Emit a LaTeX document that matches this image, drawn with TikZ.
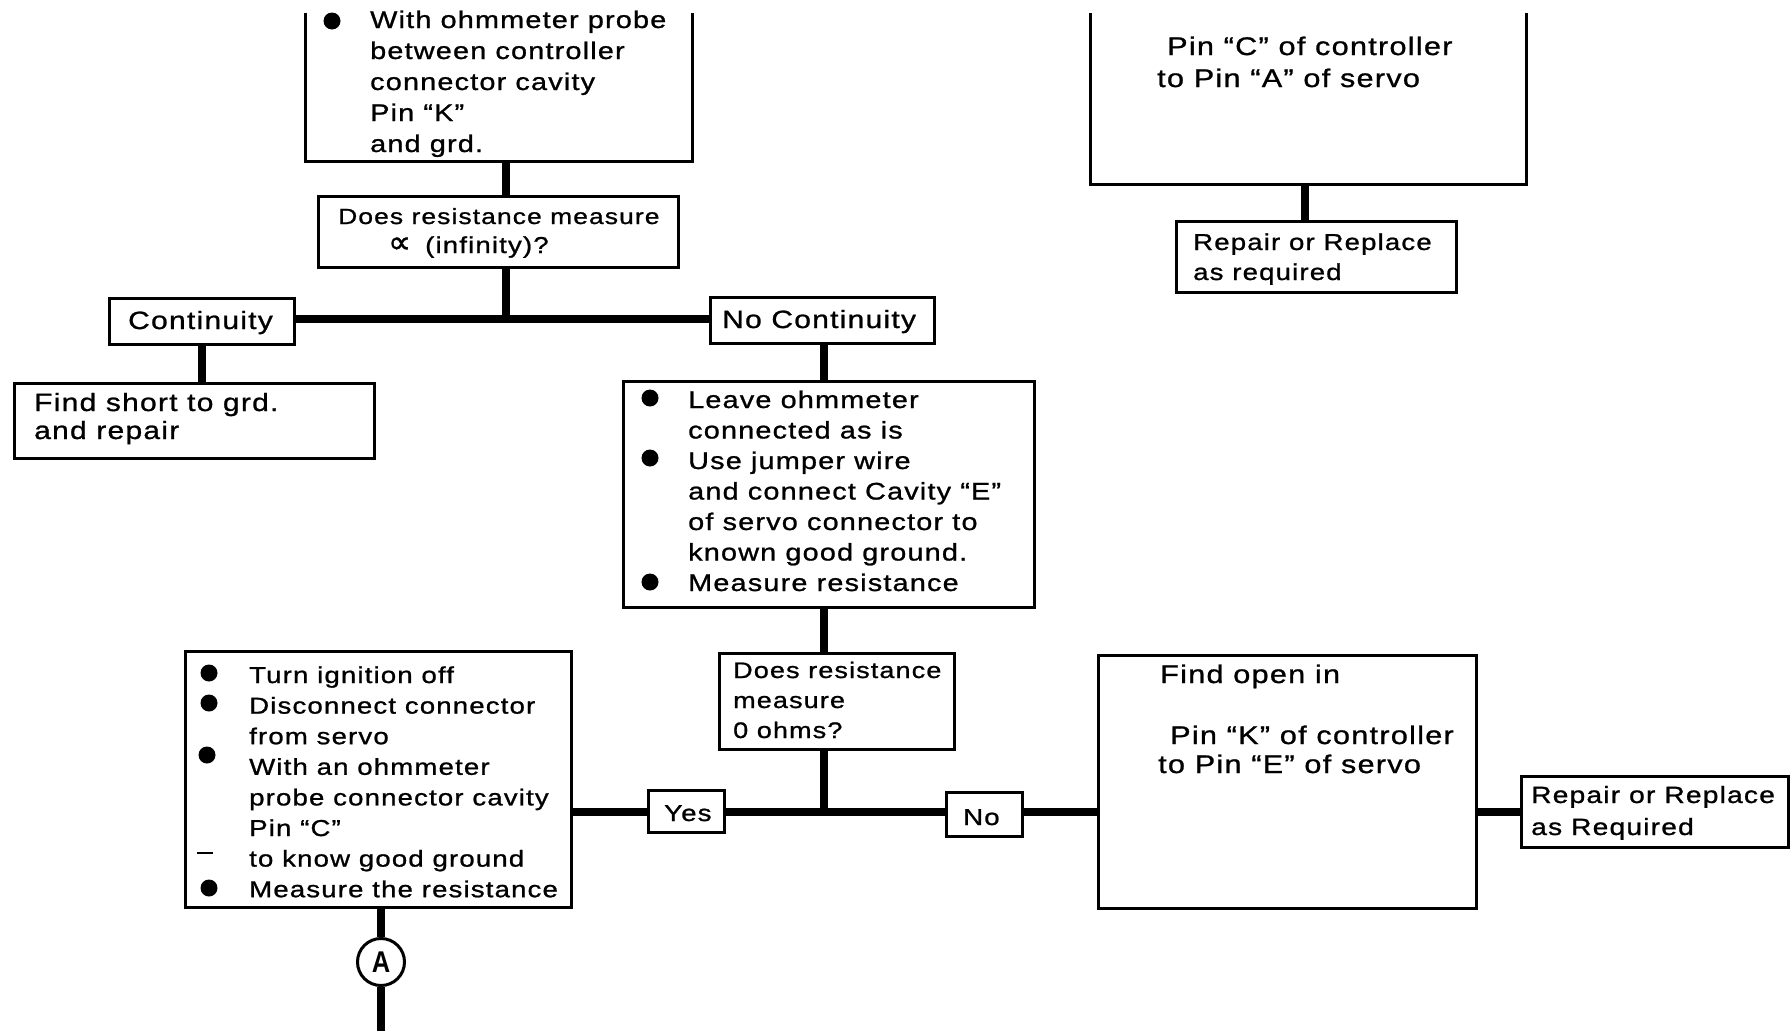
\documentclass[tikz,border=0pt]{standalone}
\usepackage{fontspec}
\setmainfont{Liberation Sans}[FakeStretch=1.2,LetterSpace=5,FakeBold=1]
\newfontfamily\symfont{DejaVu Sans}[FakeBold=1]
\newfontfamily\letterfont{Liberation Sans}[FakeStretch=0.85]
\newcommand\fs[2]{\fontsize{#1}{#2}\selectfont}
\usetikzlibrary{fit}

\begin{document}
\begin{tikzpicture}[x=1pt,y=-1pt,
  box/.style={draw, line width=3pt, inner sep=0pt},
  frame/.style={inner sep=0pt},
  edge/.style={line width=3pt, line join=miter},
  conn/.style={line width=8.5pt},
  dot/.style={circle, fill, inner sep=0pt, minimum size=17pt},
  txt/.style={anchor=base west, inner sep=0pt, font=\fs{23}{30.6}}]
\useasboundingbox[fill=white] (0,0) rectangle (1792,1031);

% ---------- upper left: probe step (box open at the top) ----------
\node[frame, fit={(306,13) (692,161)}] (tl) {};
\draw[edge] (tl.north west) -- (tl.south west) -- (tl.south east) -- (tl.north east);
\node[dot] (tldot) at (332,21) {};
\node[txt, font=\fs{24}{31}] (tltext) at (370,28) {\begin{tabular}[t]{@{}l@{}}With ohmmeter probe\\between controller\\connector cavity\\Pin “K”\\and grd.\end{tabular}};

% ---------- first question ----------
\node[box, fit={(318,196) (678,267)}] (d1) {};
\node[txt, font=\fs{22}{30}] (d1a) at (338,224) {Does resistance measure};
\node[txt, font=\fs{32}{30}] (d1b) at (388,253) {{\symfont ∝}};
\node[txt] (d1c) at (425,253) {(infinity)?};

\coordinate (j1) at (506,319);
\draw[conn] (tl.south -| j1) -- (d1.north -| j1);
\draw[conn] (d1.south -| j1) -- (j1);

% ---------- continuity branches ----------
\node[box, fit={(109,298) (294,344)}] (cont) {};
\node[txt, font=\fs{25}{30}] (contt) at (128,329) {Continuity};
\node[box, fit={(710,297) (934,343)}] (nocont) {};
\node[txt, font=\fs{25}{30}] (nocontt) at (722,328) {No Continuity};
\draw[conn] (cont.east |- j1) -- (nocont.west |- j1);

\node[box, fit={(14,383) (374,458)}] (short) {};
\node[txt, font=\fs{25}{30}] (shorta) at (34,411) {Find short to grd.};
\node[txt, font=\fs{25}{30}] (shortb) at (34,439) {and repair};
\coordinate (c1) at (202,0);
\draw[conn] (cont.south -| c1) -- (short.north -| c1);

% ---------- jumper wire step ----------
\node[box, fit={(623,381) (1034,607)}] (b2) {};
\node[dot] (b2d1) at (650,398) {};
\node[dot] (b2d2) at (650,458) {};
\node[dot] (b2d3) at (650,582) {};
\node[txt, font=\fs{24}{30.5}] (b2text) at (688,408) {\begin{tabular}[t]{@{}l@{}}Leave ohmmeter\\connected as is\\Use jumper wire\\and connect Cavity “E”\\of servo connector to\\known good ground.\\Measure resistance\end{tabular}};
\coordinate (j2) at (824,812);
\draw[conn] (nocont.south -| j2) -- (b2.north -| j2);

% ---------- second question ----------
\node[box, fit={(719,653) (954,749)}] (d2) {};
\node[txt, font=\fs{22.5}{30}] (d2text) at (733,678) {\begin{tabular}[t]{@{}l@{}}Does resistance\\measure\\0 ohms?\end{tabular}};
\draw[conn] (b2.south -| j2) -- (d2.north -| j2);
\draw[conn] (d2.south -| j2) -- (j2);

% ---------- yes / no row ----------
\node[box, fit={(648,790) (724,832)}] (yes) {};
\node[txt] (yest) at (664,821) {Yes};
\node[box, fit={(946,792) (1022,836)}] (no) {};
\node[txt] (not) at (963,825) {No};

\node[box, fit={(185,651) (571,907)}] (b3) {};
\node[dot] (b3d1) at (209,673) {};
\node[dot] (b3d2) at (209,703) {};
\node[dot] (b3d3) at (207,755) {};
\node[dot] (b3d4) at (209,888) {};
\draw[line width=2pt] (197,853) -- (213,853);
\node[txt, font=\fs{23}{30.6}] (b3text) at (249,683) {\begin{tabular}[t]{@{}l@{}}Turn ignition off\\Disconnect connector\\from servo\\With an ohmmeter\\probe connector cavity\\Pin “C”\\to know good ground\\Measure the resistance\end{tabular}};

\node[box, fit={(1098,655) (1476,908)}] (b4) {};
\node[txt, font=\fs{25.5}{30}] (b4a) at (1160,683) {Find open in};
\node[txt, font=\fs{25.5}{30}] (b4b) at (1170,744) {Pin “K” of controller};
\node[txt, font=\fs{25.5}{30}] (b4c) at (1158,773) {to Pin “E” of servo};

\node[box, fit={(1521,776) (1788,847)}] (r2) {};
\node[txt, font=\fs{23.5}{30}] (r2a) at (1531,803) {Repair or Replace};
\node[txt, font=\fs{23.5}{30}] (r2b) at (1531,835) {as Required};

\draw[conn] (b3.east |- j2) -- (yes.west |- j2);
\draw[conn] (yes.east |- j2) -- (no.west |- j2);
\draw[conn] (no.east |- j2) -- (b4.west |- j2);
\draw[conn] (b4.east |- j2) -- (r2.west |- j2);

% ---------- off-page connector A ----------
\node[circle, draw, line width=3pt, minimum size=47pt, inner sep=0pt,
      font={\letterfont\fontsize{30}{30}\selectfont\bfseries}] (ca) at (381,962) {A};
\coordinate (c3) at (381,0);
\coordinate (cend) at (381,1031);
\draw[conn] (b3.south -| c3) -- (ca.north);
\draw[conn] (ca.south) -- (cend);

% ---------- upper right: open circuit Pin C (box open at the top) ----------
\node[frame, fit={(1091,13) (1526,184)}] (tr) {};
\draw[edge] (tr.north west) -- (tr.south west) -- (tr.south east) -- (tr.north east);
\node[txt, font=\fs{25.5}{30}] (tra) at (1167,55) {Pin “C” of controller};
\node[txt, font=\fs{25.5}{30}] (trb) at (1157,87) {to Pin “A” of servo};

\node[box, fit={(1176,221) (1456,292)}] (r1) {};
\node[txt] (r1a) at (1193,250) {Repair or Replace};
\node[txt] (r1b) at (1193,280) {as required};
\coordinate (c4) at (1305,0);
\draw[conn] (tr.south -| c4) -- (r1.north -| c4);
\end{tikzpicture}
\end{document}
